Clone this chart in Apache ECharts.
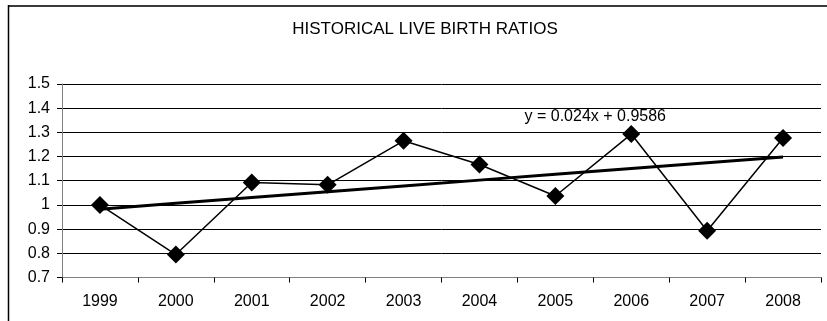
<!DOCTYPE html>
<html>
<head>
<meta charset="utf-8">
<script src="https://cdn.jsdelivr.net/npm/echarts@6/dist/echarts.min.js"></script>
<style>
  html, body { margin: 0; padding: 0; background: #fff; }
  #chart { width: 827px; height: 321px; }
</style>
</head>
<body>
<div id="chart"></div>
<script>
// Live birth ratios by year
const years = ['1999', '2000', '2001', '2002', '2003', '2004', '2005', '2006', '2007', '2008'];
const ratios = [1.0, 0.795, 1.093, 1.083, 1.265, 1.167, 1.037, 1.293, 0.893, 1.277];

// Linear trend y = slope * x + intercept, with x = 1 for the first year
const trendSlope = 0.024;
const trendIntercept = 0.9586;
const trendLabel = 'y = 0.024x + 0.9586';

const yTicks = { min: 0.7, max: 1.5, step: 0.1 };

const trendValues = years.map((_, i) => +(trendSlope * (i + 1) + trendIntercept).toFixed(4));

const chart = echarts.init(document.getElementById('chart'), null, { renderer: 'canvas' });

const font = 'Liberation Sans, Arial, sans-serif';

chart.setOption({
  animation: false,
  backgroundColor: '#fff',
  title: {
    text: 'HISTORICAL LIVE BIRTH RATIOS',
    left: 420,
    top: 16,
    textAlign: 'center',
    textStyle: { fontFamily: font, fontSize: 17, fontWeight: 'normal', color: '#000' }
  },
  graphic: [
    { type: 'line', shape: { x1: 8, y1: 6, x2: 827, y2: 6 }, style: { stroke: '#3a3a3a', lineWidth: 2 } },
    { type: 'line', shape: { x1: 8.5, y1: 5, x2: 8.5, y2: 321 }, style: { stroke: '#000', lineWidth: 1.5 } }
  ],
  grid: { left: 62, right: 6, top: 84, bottom: 43.5 },
  xAxis: {
    type: 'category',
    data: years,
    boundaryGap: true,
    axisLine: { lineStyle: { color: '#808080', width: 1 } },
    axisTick: { show: true, length: 5, lineStyle: { color: '#000' } },
    axisLabel: { margin: 16, fontFamily: font, fontSize: 16, color: '#000' },
    splitLine: { show: false }
  },
  yAxis: {
    type: 'value',
    min: yTicks.min,
    max: yTicks.max,
    interval: yTicks.step,
    axisLine: { show: true, lineStyle: { color: '#808080', width: 1 } },
    axisTick: { show: true, length: 5, lineStyle: { color: '#000' } },
    axisLabel: {
      margin: 12, fontFamily: font, fontSize: 16, color: '#000',
      formatter: v => String(+v.toFixed(1))
    },
    splitLine: { show: true, lineStyle: { color: '#000', width: 1 } }
  },
  series: [
    {
      name: 'Ratio',
      type: 'line',
      data: ratios,
      symbol: 'diamond',
      symbolSize: 18,
      itemStyle: { color: '#000' },
      lineStyle: { color: '#000', width: 1.5 },
      z: 3
    },
    {
      name: 'Trend',
      type: 'line',
      data: trendValues,
      symbol: 'none',
      lineStyle: { color: '#000', width: 3 },
      z: 2
    },
    {
      name: 'Trend label',
      type: 'scatter',
      data: [[years[7], 1.366]],
      symbolSize: 0,
      silent: true,
      itemStyle: { color: '#000', opacity: 1 },
      label: {
        show: true,
        position: 'inside',
        formatter: trendLabel,
        fontFamily: font,
        fontSize: 16,
        color: '#000',
        opacity: 1,
        textBorderWidth: 0,
        offset: [-36, 0]
      }
    }
  ]
});
</script>
</body>
</html>
